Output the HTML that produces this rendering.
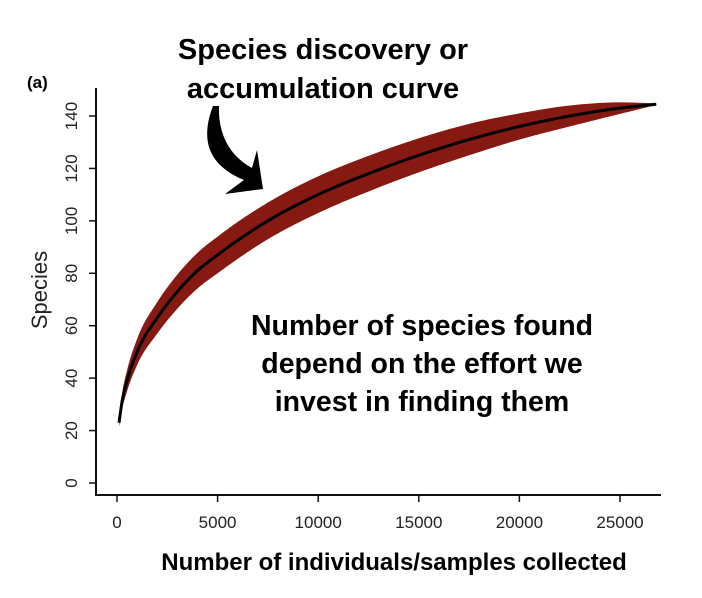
<!DOCTYPE html>
<html><head><meta charset="utf-8"><style>
body{margin:0;background:#fff;}
svg{display:block;font-family:"Liberation Sans",Arial,sans-serif;}
.big{font-weight:bold;fill:#000;}
</style></head><body>
<svg id="chart" width="702" height="598" viewBox="0 0 702 598">
<g id="band"></g>
<g id="line"></g>
<g id="axes"></g>
<text x="27" y="88" font-size="17" font-weight="bold">(a)</text>
<text transform="translate(47,290) rotate(-90)" text-anchor="middle" font-size="22" fill="#222">Species</text>
<text class="big" x="323" y="59" font-size="29" text-anchor="middle">Species discovery or</text>
<text class="big" x="323" y="98" font-size="29" text-anchor="middle">accumulation curve</text>
<path d="M213,106 C200,140 208,165 244,180 L225,194 L263,189 L257,150 L252,168 C228,155 218,132 219,106 Z" fill="#000"/>
<text class="big" x="422" y="335" font-size="28.5" text-anchor="middle">Number of species found</text>
<text class="big" x="422" y="373" font-size="28.5" text-anchor="middle">depend on the effort we</text>
<text class="big" x="422" y="411" font-size="28.5" text-anchor="middle">invest in finding them</text>
<text class="big" x="394" y="570" font-size="24" text-anchor="middle">Number of individuals/samples collected</text>
</svg>
<script>
const xs=[100,250,500,1000,2000,3000,4000,5000,7500,10000,12500,15000,17500,20000,22500,25000,26800];
const ys=[23,31,39,50,63,73,81,87,100,110,118,125,131,136,140,143,144.5];
const halfWidth=[1.5,3,4,5,6,6.5,6.8,7,7,7,6.8,6.5,6,5,4,2.2,0.3];
const xTicks=[0,5000,10000,15000,20000,25000];
const yTicks=[0,20,40,60,80,100,120,140];
const X=v=>117+v*503/25000;
const Y=v=>483-v*(367/140);
const NS='http://www.w3.org/2000/svg';
function mk(t,a,p){const e=document.createElementNS(NS,t);for(const k in a)e.setAttribute(k,a[k]);p.appendChild(e);return e;}
function interp(xa,ya){const n=xa.length,d=[],m=[];for(let i=0;i<n-1;i++)d.push((ya[i+1]-ya[i])/(xa[i+1]-xa[i]));
m[0]=d[0];m[n-1]=d[n-2];for(let i=1;i<n-1;i++){const h0=xa[i]-xa[i-1],h1=xa[i+1]-xa[i];m[i]=d[i-1]*d[i]<=0?0:(d[i-1]*h1+d[i]*h0)/(h0+h1);}
for(let i=0;i<n-1;i++){if(d[i]===0){m[i]=m[i+1]=0;continue;}const a=m[i]/d[i],b=m[i+1]/d[i],s=a*a+b*b;if(s>9){const t=3/Math.sqrt(s);m[i]=t*a*d[i];m[i+1]=t*b*d[i];}}
return x=>{let i=0;while(i<n-2&&x>xa[i+1])i++;const h=xa[i+1]-xa[i],t=(x-xa[i])/h,t2=t*t,t3=t2*t;
return (2*t3-3*t2+1)*ya[i]+(t3-2*t2+t)*h*m[i]+(-2*t3+3*t2)*ya[i+1]+(t3-t2)*h*m[i+1];};}
const fC=interp(xs,ys);
const fU=interp(xs,ys.map((y,i)=>y+halfWidth[i]));
const fL=interp(xs,ys.map((y,i)=>y-halfWidth[i]));
const samples=[];const N=300;for(let k=0;k<=N;k++){const u=k/N;samples.push(xs[0]+(xs[xs.length-1]-xs[0])*u*u);}
const line=f=>samples.map(x=>[X(x),Y(f(x))]);
const up=line(fU),lo=line(fL).reverse();
const toD=pts=>pts.map((p,i)=>(i?'L':'M')+p[0].toFixed(2)+','+p[1].toFixed(2)).join(' ');
const bp=mk('path',{d:toD(up)+' '+toD(lo).replace(/^M/,'L')+' Z',fill:'#861a12'},document.getElementById('band'));


const lp=mk('path',{d:toD(line(fC)),fill:'none',stroke:'#000','stroke-width':3},document.getElementById('line'));


const ax=document.getElementById('axes');
mk('path',{d:'M96,88 V495 H661',fill:'none',stroke:'#111','stroke-width':2},ax);
xTicks.forEach(t=>{mk('line',{x1:X(t),x2:X(t),y1:495,y2:502,stroke:'#111','stroke-width':1.5},ax);
const tx=mk('text',{x:X(t),y:528,'text-anchor':'middle','font-size':17,fill:'#222'},ax);tx.textContent=t;

});
yTicks.forEach(t=>{mk('line',{x1:89,x2:96,y1:Y(t),y2:Y(t),stroke:'#111','stroke-width':1.5},ax);
const tx=mk('text',{transform:'translate(77,'+Y(t)+') rotate(-90)','text-anchor':'middle','font-size':17,fill:'#222'},ax);tx.textContent=t;

});
</script>
</body></html>
